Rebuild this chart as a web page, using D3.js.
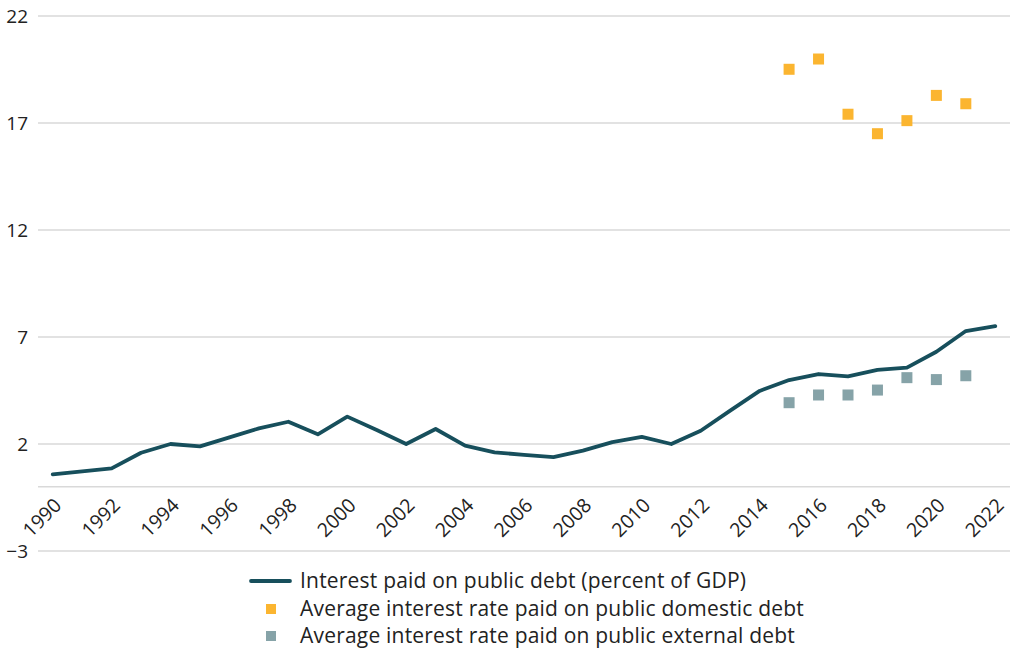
<!DOCTYPE html>
<html>
<head>
<meta charset="utf-8">
<script src="https://cdn.jsdelivr.net/npm/d3@7"></script>
<style>
  html, body { margin: 0; padding: 0; background: #fff; }
  svg { display: block; font-family: "Open Sans", Lato, sans-serif; }
</style>
</head>
<body>
<svg id="chart" width="1010" height="654"></svg>
<script>
// Years on the x axis
const years = d3.range(1990, 2023);

// Interest paid on public debt, percent of GDP
const interestPaid = [0.58, 0.72, 0.86, 1.59, 2.0, 1.89, 2.31, 2.73, 3.04, 2.45,
  3.28, 2.65, 2.0, 2.70, 1.92, 1.61, 1.49, 1.39, 1.69, 2.09,
  2.33, 2.0, 2.62, 3.56, 4.48, 4.99, 5.27, 5.16, 5.46, 5.57,
  6.31, 7.28, 7.51];

// Average interest rates, 2015-2021
const rateYears = [2015, 2016, 2017, 2018, 2019, 2020, 2021];
const domesticRate = [19.51, 19.99, 17.41, 16.50, 17.11, 18.29, 17.90];
const externalRate = [3.93, 4.29, 4.29, 4.52, 5.10, 5.01, 5.19];

const yTicks = [-3, 2, 7, 12, 17, 22];

const seriesNames = [
  "Interest paid on public debt (percent of GDP)",
  "Average interest rate paid on public domestic debt",
  "Average interest rate paid on public external debt"
];

const colors = { line: "#174f5c", domestic: "#fbb530", external: "#86a3a8", grid: "#d9d9d9", text: "#222" };
const font = "'Open Sans', sans-serif";

const svg = d3.select("#chart");
const plotLeft = 38, plotRight = 1010, plotTop = 16, plotBottom = 551;

const x = d3.scaleBand().domain(years).range([plotLeft, plotRight]);
const y = d3.scaleLinear().domain([-3, 22]).range([plotBottom, plotTop]);
const cx = d => x(d) + x.bandwidth() / 2;

// Horizontal gridlines
svg.append("g").selectAll("line")
  .data(yTicks.concat([0]))
  .join("line")
  .attr("x1", plotLeft).attr("x2", plotRight)
  .attr("y1", d => y(d)).attr("y2", d => y(d))
  .attr("stroke", colors.grid).attr("stroke-width", 1.5);

// Y axis labels
const yAxis = svg.append("g")
  .attr("transform", `translate(${plotLeft},0)`)
  .call(d3.axisLeft(y).tickValues(yTicks).tickSize(0).tickPadding(10).tickFormat(d => d < 0 ? "\u2212" + Math.abs(d) : d));
yAxis.select(".domain").remove();
yAxis.selectAll("text").attr("font-size", 19).attr("fill", colors.text).attr("font-family", font);

// X axis labels, rotated
const xAxis = svg.append("g")
  .attr("transform", `translate(0,${y(0)})`)
  .call(d3.axisBottom(x).tickValues(years.filter(d => d % 2 === 0)).tickSize(0).tickPadding(0));
xAxis.select(".domain").remove();
xAxis.selectAll("text")
  .attr("font-size", 19.5).attr("fill", colors.text).attr("font-family", font)
  .attr("text-anchor", "end")
  .attr("dy", "0.35em")
  .attr("transform", "translate(5,15) rotate(-45)");

// Interest paid line
svg.append("path")
  .datum(interestPaid)
  .attr("fill", "none")
  .attr("stroke", colors.line)
  .attr("stroke-width", 3.8)
  .attr("stroke-linejoin", "round")
  .attr("stroke-linecap", "round")
  .attr("d", d3.line().x((d, i) => cx(years[i])).y(d => y(d)));

// Square markers
const sq = 11;
function squares(values, color) {
  svg.append("g").selectAll("rect")
    .data(values)
    .join("rect")
    .attr("x", (d, i) => cx(rateYears[i]) - sq / 2)
    .attr("y", d => y(d) - sq / 2)
    .attr("width", sq).attr("height", sq)
    .attr("fill", color);
}
squares(domesticRate, colors.domestic);
squares(externalRate, colors.external);

// Legend
const legend = svg.append("g").attr("font-size", 21).attr("font-family", font)
  .attr("letter-spacing", 0.2).attr("fill", colors.text);
const rowY = [581, 609, 636];
legend.append("line")
  .attr("x1", 251).attr("x2", 290).attr("y1", rowY[0]).attr("y2", rowY[0])
  .attr("stroke", colors.line).attr("stroke-width", 3.8).attr("stroke-linecap", "round");
legend.append("rect").attr("x", 266).attr("y", rowY[1] - 5).attr("width", 10).attr("height", 10).attr("fill", colors.domestic);
legend.append("rect").attr("x", 266).attr("y", rowY[2] - 5).attr("width", 10).attr("height", 10).attr("fill", colors.external);
legend.selectAll("text")
  .data(seriesNames)
  .join("text")
  .attr("x", 300).attr("y", (d, i) => rowY[i])
  .attr("dy", "0.35em")
  .attr("fill", colors.text)
  .text(d => d);
</script>
</body>
</html>
